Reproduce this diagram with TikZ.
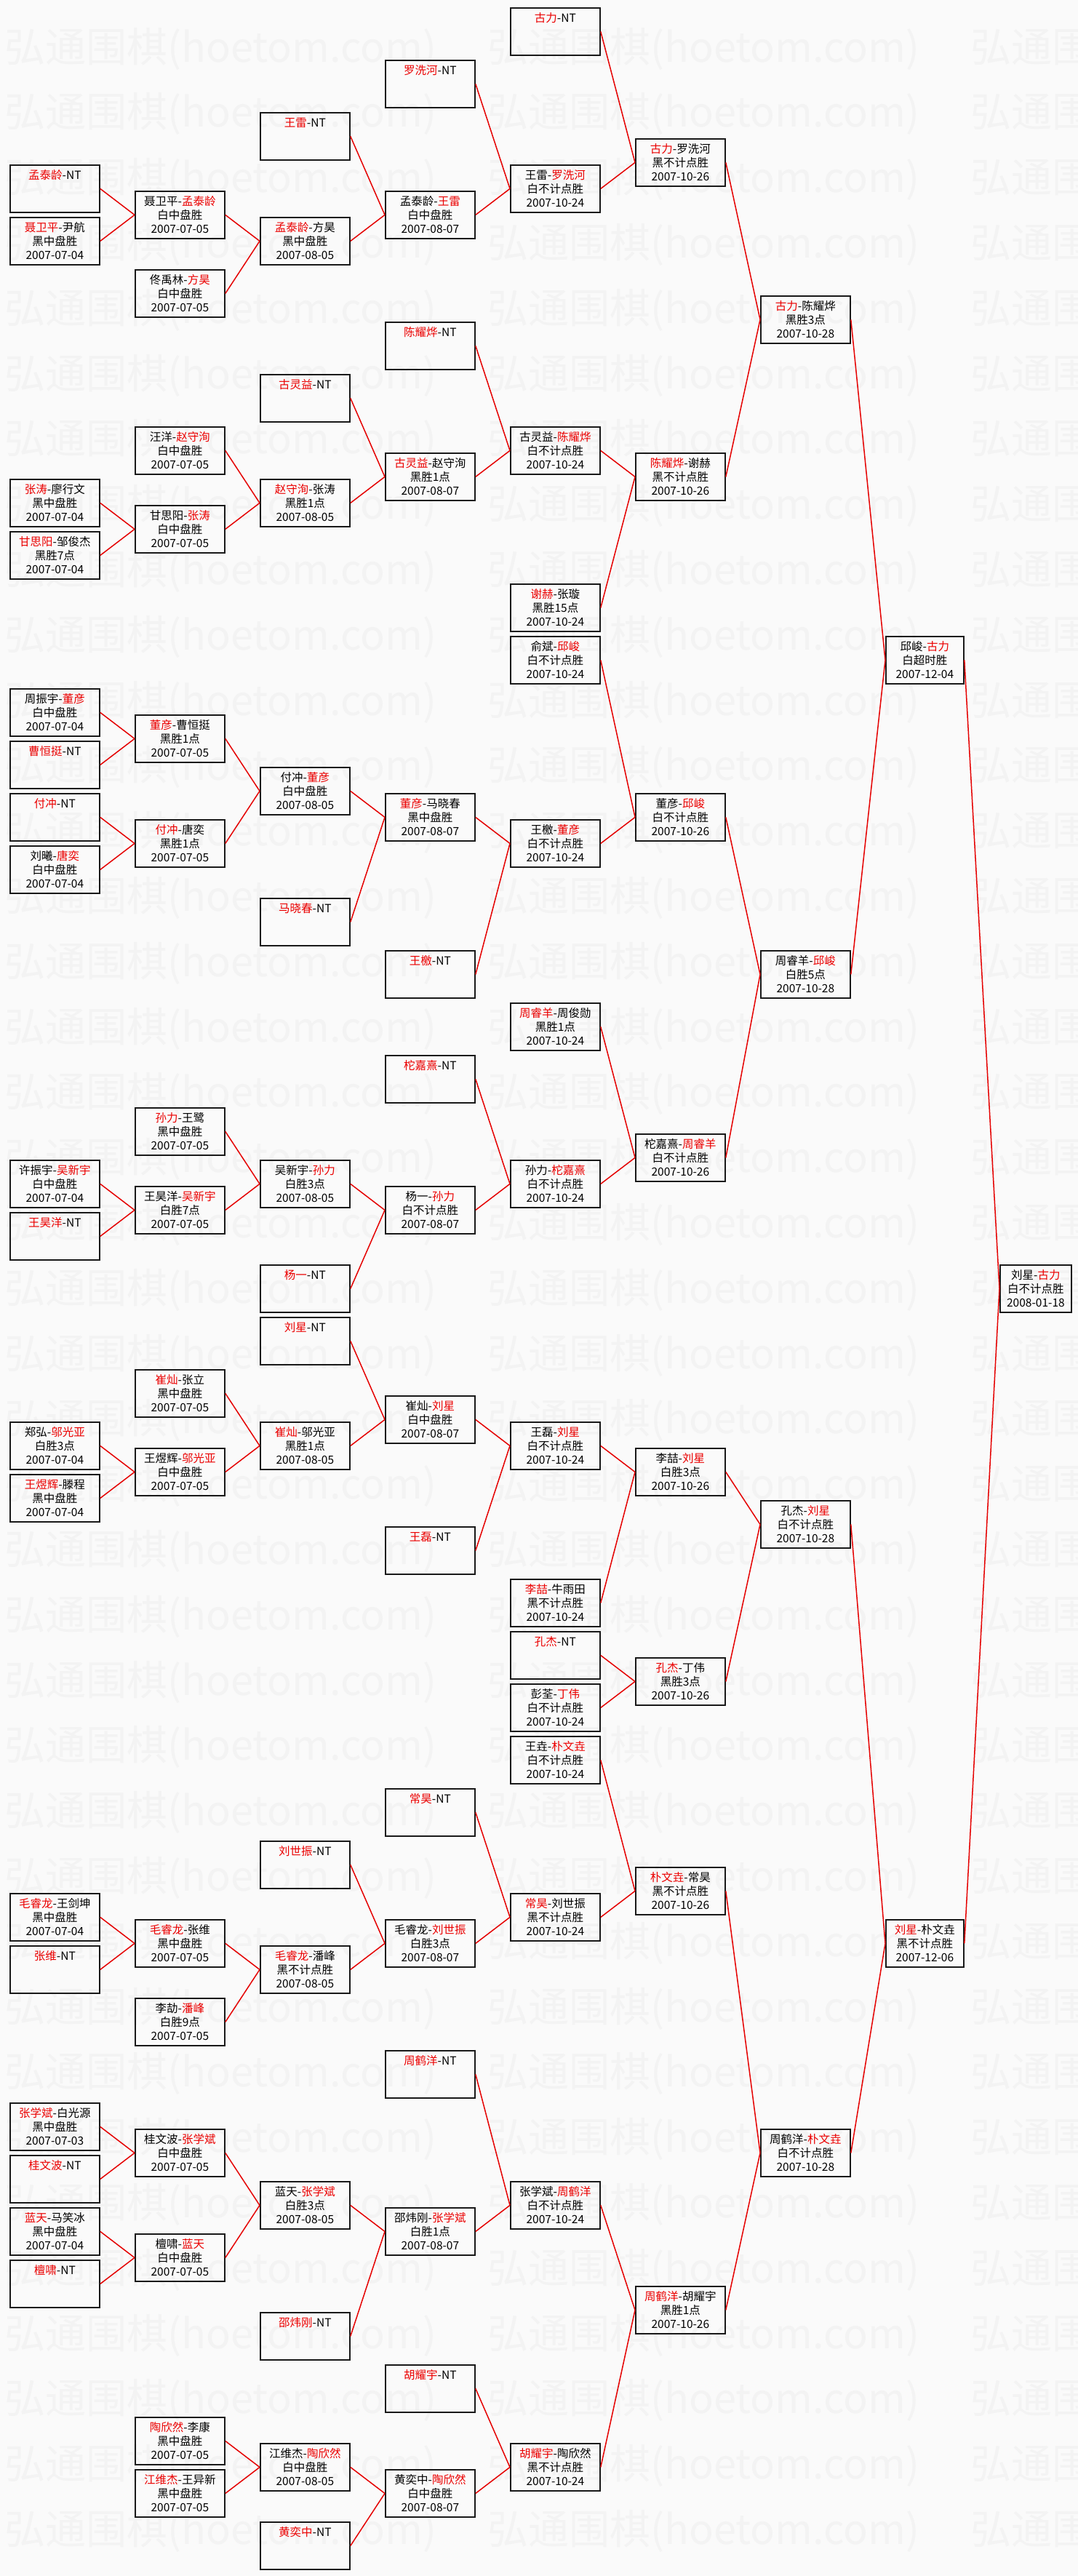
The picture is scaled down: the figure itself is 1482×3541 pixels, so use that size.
\documentclass[tikz,border=0pt]{standalone}
\usepackage{fontspec}
\usepackage{graphicx}
\setmainfont{Noto Sans CJK SC}
\definecolor{winred}{RGB}{235,0,0}
\definecolor{wmgray}{RGB}{243,243,243}
\newcommand\w[1]{\textcolor{winred}{#1}}
\newcommand\gm[6][]{\node[game,#1] (c#2r#3) at ({13+172*(#2-1)},{10+36*#3}) {#4\\#5\\#6};}
\newcommand\nt[3]{\gm{#1}{#2}{\w{#3}-NT}{\phantom{0}}{\phantom{0}}}
\begin{document}
\begin{tikzpicture}[x=1pt,y=-1pt,
  game/.style={draw=black!90,line width=1.8pt,anchor=north west,minimum width=123pt,minimum height=65pt,inner sep=0pt,align=center,font=\fontsize{15.5}{19}\selectfont},
  link/.style={red!90!black,line width=1.5pt},
  wmark/.style={anchor=west,inner sep=0pt,text=wmgray,font=\fontsize{56}{56}\selectfont}]
\fill[white!98!black] (0,0) rectangle (1482,3541);
\useasboundingbox (0,0) rectangle (1482,3541);
\foreach \j in {0,...,38}
  \foreach \i in {0,1,2}
    \node[wmark] at ({6+664*\i},{67+89.8*\j}) {弘通围棋(hoetom.com)};
% round 1
\nt{1}{6}{孟泰龄}
\gm{1}{8}{\w{聂卫平}-尹航}{黑中盘胜}{2007-07-04}
\gm{1}{18}{\w{张涛}-廖行文}{黑中盘胜}{2007-07-04}
\gm{1}{20}{\w{甘思阳}-邹俊杰}{黑胜7点}{2007-07-04}
\gm{1}{26}{周振宇-\w{董彦}}{白中盘胜}{2007-07-04}
\nt{1}{28}{曹恒挺}
\nt{1}{30}{付冲}
\gm{1}{32}{刘曦-\w{唐奕}}{白中盘胜}{2007-07-04}
\gm{1}{44}{许振宇-\w{吴新宇}}{白中盘胜}{2007-07-04}
\nt{1}{46}{王昊洋}
\gm{1}{54}{郑弘-\w{邬光亚}}{白胜3点}{2007-07-04}
\gm{1}{56}{\w{王煜辉}-滕程}{黑中盘胜}{2007-07-04}
\gm{1}{72}{\w{毛睿龙}-王剑坤}{黑中盘胜}{2007-07-04}
\nt{1}{74}{张维}
\gm{1}{80}{\w{张学斌}-白光源}{黑中盘胜}{2007-07-03}
\nt{1}{82}{桂文波}
\gm{1}{84}{\w{蓝天}-马笑冰}{黑中盘胜}{2007-07-04}
\nt{1}{86}{檀啸}
% round 2
\gm{2}{7}{聂卫平-\w{孟泰龄}}{白中盘胜}{2007-07-05}
\gm{2}{10}{佟禹林-\w{方昊}}{白中盘胜}{2007-07-05}
\gm{2}{16}{汪洋-\w{赵守洵}}{白中盘胜}{2007-07-05}
\gm{2}{19}{甘思阳-\w{张涛}}{白中盘胜}{2007-07-05}
\gm{2}{27}{\w{董彦}-曹恒挺}{黑胜1点}{2007-07-05}
\gm{2}{31}{\w{付冲}-唐奕}{黑胜1点}{2007-07-05}
\gm{2}{42}{\w{孙力}-王鹭}{黑中盘胜}{2007-07-05}
\gm{2}{45}{王昊洋-\w{吴新宇}}{白胜7点}{2007-07-05}
\gm{2}{52}{\w{崔灿}-张立}{黑中盘胜}{2007-07-05}
\gm{2}{55}{王煜辉-\w{邬光亚}}{白中盘胜}{2007-07-05}
\gm{2}{73}{\w{毛睿龙}-张维}{黑中盘胜}{2007-07-05}
\gm{2}{76}{李劼-\w{潘峰}}{白胜9点}{2007-07-05}
\gm{2}{81}{桂文波-\w{张学斌}}{白中盘胜}{2007-07-05}
\gm{2}{85}{檀啸-\w{蓝天}}{白中盘胜}{2007-07-05}
\gm{2}{92}{\w{陶欣然}-李康}{黑中盘胜}{2007-07-05}
\gm{2}{94}{\w{江维杰}-王异新}{黑中盘胜}{2007-07-05}
% round 3
\nt{3}{4}{王雷}
\gm{3}{8}{\w{孟泰龄}-方昊}{黑中盘胜}{2007-08-05}
\nt{3}{14}{古灵益}
\gm{3}{18}{\w{赵守洵}-张涛}{黑胜1点}{2007-08-05}
\gm{3}{29}{付冲-\w{董彦}}{白中盘胜}{2007-08-05}
\nt{3}{34}{马晓春}
\gm{3}{44}{吴新宇-\w{孙力}}{白胜3点}{2007-08-05}
\nt{3}{48}{杨一}
\nt{3}{50}{刘星}
\gm{3}{54}{\w{崔灿}-邬光亚}{黑胜1点}{2007-08-05}
\nt{3}{70}{刘世振}
\gm{3}{74}{\w{毛睿龙}-潘峰}{黑不计点胜}{2007-08-05}
\gm{3}{83}{蓝天-\w{张学斌}}{白胜3点}{2007-08-05}
\nt{3}{88}{邵炜刚}
\gm{3}{93}{江维杰-\w{陶欣然}}{白中盘胜}{2007-08-05}
\nt{3}{96}{黄奕中}
% round 4
\nt{4}{2}{罗洗河}
\gm{4}{7}{孟泰龄-\w{王雷}}{白中盘胜}{2007-08-07}
\nt{4}{12}{陈耀烨}
\gm{4}{17}{\w{古灵益}-赵守洵}{黑胜1点}{2007-08-07}
\gm{4}{30}{\w{董彦}-马晓春}{黑中盘胜}{2007-08-07}
\nt{4}{36}{王檄}
\nt{4}{40}{柁嘉熹}
\gm{4}{45}{杨一-\w{孙力}}{白不计点胜}{2007-08-07}
\gm{4}{53}{崔灿-\w{刘星}}{白中盘胜}{2007-08-07}
\nt{4}{58}{王磊}
\nt{4}{68}{常昊}
\gm{4}{73}{毛睿龙-\w{刘世振}}{白胜3点}{2007-08-07}
\nt{4}{78}{周鹤洋}
\gm{4}{84}{邵炜刚-\w{张学斌}}{白胜1点}{2007-08-07}
\nt{4}{90}{胡耀宇}
\gm{4}{94}{黄奕中-\w{陶欣然}}{白中盘胜}{2007-08-07}
% round 5
\nt{5}{0}{古力}
\gm{5}{6}{王雷-\w{罗洗河}}{白不计点胜}{2007-10-24}
\gm{5}{16}{古灵益-\w{陈耀烨}}{白不计点胜}{2007-10-24}
\gm{5}{22}{\w{谢赫}-张璇}{黑胜15点}{2007-10-24}
\gm{5}{24}{俞斌-\w{邱峻}}{白不计点胜}{2007-10-24}
\gm{5}{31}{王檄-\w{董彦}}{白不计点胜}{2007-10-24}
\gm{5}{38}{\w{周睿羊}-周俊勋}{黑胜1点}{2007-10-24}
\gm{5}{44}{孙力-\w{柁嘉熹}}{白不计点胜}{2007-10-24}
\gm{5}{54}{王磊-\w{刘星}}{白不计点胜}{2007-10-24}
\gm{5}{60}{\w{李喆}-牛雨田}{黑不计点胜}{2007-10-24}
\nt{5}{62}{孔杰}
\gm{5}{64}{彭荃-\w{丁伟}}{白不计点胜}{2007-10-24}
\gm{5}{66}{王垚-\w{朴文垚}}{白不计点胜}{2007-10-24}
\gm{5}{72}{\w{常昊}-刘世振}{黑不计点胜}{2007-10-24}
\gm{5}{83}{张学斌-\w{周鹤洋}}{白不计点胜}{2007-10-24}
\gm{5}{93}{\w{胡耀宇}-陶欣然}{黑不计点胜}{2007-10-24}
% round 6
\gm{6}{5}{\w{古力}-罗洗河}{黑不计点胜}{2007-10-26}
\gm{6}{17}{\w{陈耀烨}-谢赫}{黑不计点胜}{2007-10-26}
\gm{6}{30}{董彦-\w{邱峻}}{白不计点胜}{2007-10-26}
\gm{6}{43}{柁嘉熹-\w{周睿羊}}{白不计点胜}{2007-10-26}
\gm{6}{55}{李喆-\w{刘星}}{白胜3点}{2007-10-26}
\gm{6}{63}{\w{孔杰}-丁伟}{黑胜3点}{2007-10-26}
\gm{6}{71}{\w{朴文垚}-常昊}{黑不计点胜}{2007-10-26}
\gm{6}{87}{\w{周鹤洋}-胡耀宇}{黑胜1点}{2007-10-26}
% semifinals and final
\gm{7}{11}{\w{古力}-陈耀烨}{黑胜3点}{2007-10-28}
\gm{7}{36}{周睿羊-\w{邱峻}}{白胜5点}{2007-10-28}
\gm{7}{57}{孔杰-\w{刘星}}{白不计点胜}{2007-10-28}
\gm{7}{81}{周鹤洋-\w{朴文垚}}{白不计点胜}{2007-10-28}
\gm[minimum width=107pt]{8}{24}{邱峻-\w{古力}}{白超时胜}{2007-12-04}
\gm[minimum width=107pt]{8}{73}{\w{刘星}-朴文垚}{黑不计点胜}{2007-12-06}
\node[game,minimum width=98pt] (c9r48) at (1374,{10+36*48}) {刘星-\w{古力}\\白不计点胜\\2008-01-18};
\foreach \a/\b in {c1r6/c2r7,c1r8/c2r7,c1r18/c2r19,c1r20/c2r19,c1r26/c2r27,c1r28/c2r27,c1r30/c2r31,c1r32/c2r31,
  c1r44/c2r45,c1r46/c2r45,c1r54/c2r55,c1r56/c2r55,c1r72/c2r73,c1r74/c2r73,c1r80/c2r81,c1r82/c2r81,c1r84/c2r85,c1r86/c2r85,
  c2r7/c3r8,c2r10/c3r8,c2r16/c3r18,c2r19/c3r18,c2r27/c3r29,c2r31/c3r29,c2r42/c3r44,c2r45/c3r44,
  c2r52/c3r54,c2r55/c3r54,c2r73/c3r74,c2r76/c3r74,c2r81/c3r83,c2r85/c3r83,c2r92/c3r93,c2r94/c3r93,
  c3r4/c4r7,c3r8/c4r7,c3r14/c4r17,c3r18/c4r17,c3r29/c4r30,c3r34/c4r30,c3r44/c4r45,c3r48/c4r45,
  c3r50/c4r53,c3r54/c4r53,c3r70/c4r73,c3r74/c4r73,c3r83/c4r84,c3r88/c4r84,c3r93/c4r94,c3r96/c4r94,
  c4r2/c5r6,c4r7/c5r6,c4r12/c5r16,c4r17/c5r16,c4r30/c5r31,c4r36/c5r31,c4r40/c5r44,c4r45/c5r44,
  c4r53/c5r54,c4r58/c5r54,c4r68/c5r72,c4r73/c5r72,c4r78/c5r83,c4r84/c5r83,c4r90/c5r93,c4r94/c5r93,
  c5r0/c6r5,c5r6/c6r5,c5r16/c6r17,c5r22/c6r17,c5r24/c6r30,c5r31/c6r30,c5r38/c6r43,c5r44/c6r43,
  c5r54/c6r55,c5r60/c6r55,c5r62/c6r63,c5r64/c6r63,c5r66/c6r71,c5r72/c6r71,c5r83/c6r87,c5r93/c6r87,
  c6r5/c7r11,c6r17/c7r11,c6r30/c7r36,c6r43/c7r36,c6r55/c7r57,c6r63/c7r57,c6r71/c7r81,c6r87/c7r81,
  c7r11/c8r24,c7r36/c8r24,c7r57/c8r73,c7r81/c8r73,c8r24/c9r48,c8r73/c9r48}
  \draw[link] (\a.east) -- (\b.west);
\end{tikzpicture}
\end{document}
